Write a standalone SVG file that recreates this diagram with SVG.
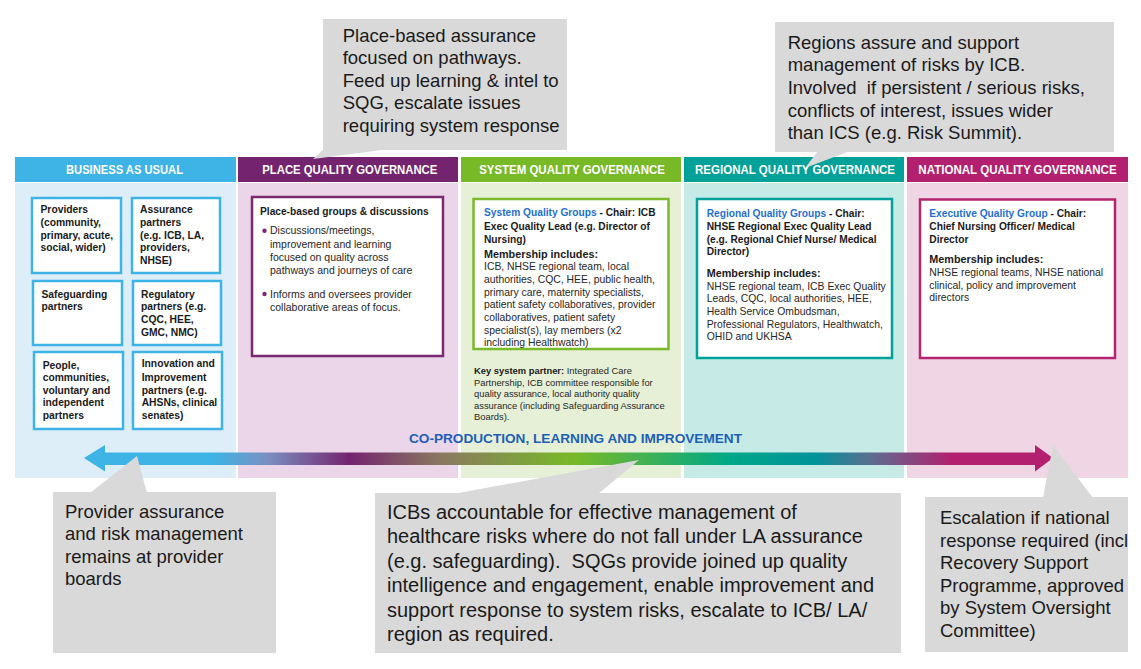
<svg xmlns="http://www.w3.org/2000/svg" width="1141" height="669" viewBox="0 0 1141 669">
<defs>
<style>
text{font-family:"Liberation Sans",Arial,sans-serif}
.hdr{font-weight:bold;font-size:12.5px;fill:#fff;text-anchor:middle}
.bau{font-weight:bold;font-size:10.3px;fill:#1a1a1a}
.t{font-size:10.4px;fill:#262626}
.tb{font-weight:bold;font-size:10.2px;fill:#1a1a1a}
.mem{font-weight:bold;font-size:10.8px;fill:#1a1a1a}
.blue{fill:#1f6fcf}
.ksp{font-size:9.4px;fill:#262626}
.call{font-size:18.5px;fill:#1a1a1a}
.callm{font-size:20px;fill:#1a1a1a}
.cbg{fill:#d9d9d9}
.bbox{fill:#fff;stroke:#3db4e5;stroke-width:2.5}
</style>
<linearGradient id="arrowGrad" gradientUnits="userSpaceOnUse" x1="84" y1="0" x2="1053" y2="0">
<stop offset="0" stop-color="#3db4e5"/>
<stop offset="0.132" stop-color="#3db4e5"/>
<stop offset="0.19" stop-color="#7a8fc0"/>
<stop offset="0.274" stop-color="#74246f"/>
<stop offset="0.37" stop-color="#8a7a60"/>
<stop offset="0.507" stop-color="#78b928"/>
<stop offset="0.665" stop-color="#00a886"/>
<stop offset="0.755" stop-color="#00939a"/>
<stop offset="0.81" stop-color="#5a6f90"/>
<stop offset="0.897" stop-color="#b3206f"/>
<stop offset="1" stop-color="#b3206f"/>
</linearGradient>
<clipPath id="clipR"><rect x="0" y="0" width="1128" height="669"/></clipPath>
</defs>
<rect x="0" y="0" width="1141" height="669" fill="#fff"/>

<g id="col-bau">
<rect x="15" y="157" width="221" height="25" fill="#3db4e5"/>
<rect x="15" y="183" width="221" height="295" fill="#deeef8"/>
<text class="hdr" x="124.5" y="174" textLength="117" lengthAdjust="spacingAndGlyphs">BUSINESS AS USUAL</text>
</g>
<g id="col-place">
<rect x="238" y="157" width="220" height="25" fill="#74246f"/>
<rect x="238" y="183" width="220" height="295" fill="#ebd5e9"/>
<text class="hdr" x="349.8" y="174" textLength="175" lengthAdjust="spacingAndGlyphs">PLACE QUALITY GOVERNANCE</text>
</g>
<g id="col-system">
<rect x="461" y="157" width="220" height="25" fill="#78b928"/>
<rect x="461" y="183" width="220" height="295" fill="#e6f0d6"/>
<text class="hdr" x="572" y="174" textLength="185.7" lengthAdjust="spacingAndGlyphs">SYSTEM QUALITY GOVERNANCE</text>
</g>
<g id="col-regional">
<rect x="684" y="157" width="220" height="25" fill="#00a199"/>
<rect x="684" y="183" width="220" height="295" fill="#c6ebe6"/>
<text class="hdr" x="795" y="174" textLength="200" lengthAdjust="spacingAndGlyphs">REGIONAL QUALITY GOVERNANCE</text>
</g>
<g id="col-national">
<rect x="907" y="157" width="221" height="25" fill="#b3206f"/>
<rect x="907" y="183" width="221" height="295" fill="#f0d6e4"/>
<text class="hdr" x="1017.5" y="174" textLength="198.3" lengthAdjust="spacingAndGlyphs">NATIONAL QUALITY GOVERNANCE</text>
</g>

<g id="bau-providers">
<rect class="bbox" x="32" y="198" width="89" height="75"/>
<text class="bau"><tspan x="40.5" y="213">Providers</tspan><tspan x="40.5" y="226">(community,</tspan><tspan x="40.5" y="238.7">primary, acute,</tspan><tspan x="40.5" y="251.4">social, wider)</tspan></text>
</g>
<g id="bau-assurance">
<rect class="bbox" x="132" y="198" width="88" height="75"/>
<text class="bau"><tspan x="140" y="213">Assurance</tspan><tspan x="140" y="226">partners</tspan><tspan x="140" y="238.7">(e.g. ICB, LA,</tspan><tspan x="140" y="251.4">providers,</tspan><tspan x="140" y="264.4">NHSE)</tspan></text>
</g>
<g id="bau-safeguarding">
<rect class="bbox" x="33" y="281" width="89" height="64"/>
<text class="bau"><tspan x="41.5" y="297.7">Safeguarding</tspan><tspan x="41.5" y="309.7">partners</tspan></text>
</g>
<g id="bau-regulatory">
<rect class="bbox" x="133" y="281" width="88" height="64"/>
<text class="bau"><tspan x="141" y="297.7">Regulatory</tspan><tspan x="141" y="310.4">partners (e.g.</tspan><tspan x="141" y="323">CQC, HEE,</tspan><tspan x="141" y="335.7">GMC, NMC)</tspan></text>
</g>
<g id="bau-people">
<rect class="bbox" x="34" y="352" width="89" height="77"/>
<text class="bau"><tspan x="42.7" y="368.7">People,</tspan><tspan x="42.7" y="381.4">communities,</tspan><tspan x="42.7" y="393.7">voluntary and</tspan><tspan x="42.7" y="406.4">independent</tspan><tspan x="42.7" y="419.4">partners</tspan></text>
</g>
<g id="bau-innovation">
<rect class="bbox" x="133" y="352" width="89" height="77"/>
<text class="bau"><tspan x="141.7" y="367">Innovation and</tspan><tspan x="141.7" y="381">Improvement</tspan><tspan x="141.7" y="393.7">partners (e.g.</tspan><tspan x="141.7" y="406.4">AHSNs, clinical</tspan><tspan x="141.7" y="419.4">senates)</tspan></text>
</g>

<g id="place-box">
<rect x="252" y="197" width="191" height="159" fill="#fff" stroke="#7b2a72" stroke-width="2.5"/>
<text class="tb" x="260" y="215.3">Place-based groups &amp; discussions</text>
<circle cx="264.5" cy="230.7" r="2.2" fill="#7b2a72"/>
<circle cx="264.5" cy="294" r="2.2" fill="#7b2a72"/>
<text class="t" style="font-size:10.5px"><tspan x="270" y="234.4">Discussions/meetings,</tspan><tspan x="270" y="247.7">improvement and learning</tspan><tspan x="270" y="261">focused on quality across</tspan><tspan x="270" y="274.4">pathways and journeys of care</tspan><tspan x="270" y="297.7">Informs and oversees provider</tspan><tspan x="270" y="311">collaborative areas of focus.</tspan></text>
</g>

<g id="system-box">
<rect x="473.5" y="199" width="195" height="150" fill="#fff" stroke="#7ab929" stroke-width="2.5"/>
<text class="tb"><tspan x="484" y="216.4"><tspan class="blue">System Quality Groups</tspan> - Chair: ICB</tspan><tspan x="484" y="229.7">Exec Quality Lead (e.g. Director of</tspan><tspan x="484" y="243">Nursing)</tspan></text>
<text class="mem" x="484" y="257.8">Membership includes:</text>
<text class="t"><tspan x="484" y="270.4">ICB, NHSE regional team, local</tspan><tspan x="484" y="283">authorities, CQC, HEE, public health,</tspan><tspan x="484" y="295.7">primary care, maternity specialists,</tspan><tspan x="484" y="308.4">patient safety collaboratives, provider</tspan><tspan x="484" y="321.4">collaboratives, patient safety</tspan><tspan x="484" y="333.7">specialist(s), lay members (x2</tspan><tspan x="484" y="346.4">including Healthwatch)</tspan></text>
</g>
<g id="system-partner">
<text class="ksp"><tspan x="474" y="374.3"><tspan font-weight="bold" fill="#1a1a1a">Key system partner:</tspan> Integrated Care</tspan><tspan x="474" y="385.6">Partnership, ICB committee responsible for</tspan><tspan x="474" y="397.3">quality assurance, local authority quality</tspan><tspan x="474" y="409">assurance (including Safeguarding Assurance</tspan><tspan x="474" y="420">Boards).</tspan></text>
</g>

<g id="regional-box">
<rect x="697" y="199" width="195" height="159" fill="#fff" stroke="#00a199" stroke-width="2.5"/>
<text class="tb"><tspan x="706.7" y="217"><tspan class="blue">Regional Quality Groups</tspan> - Chair:</tspan><tspan x="706.7" y="229.7">NHSE Regional Exec Quality Lead</tspan><tspan x="706.7" y="243">(e.g. Regional Chief Nurse/ Medical</tspan><tspan x="706.7" y="255.4">Director)</tspan></text>
<text class="mem" x="706.7" y="277">Membership includes:</text>
<text class="t"><tspan x="706.7" y="289.7">NHSE regional team, ICB Exec Quality</tspan><tspan x="706.7" y="302.4">Leads, CQC, local authorities, HEE,</tspan><tspan x="706.7" y="315">Health Service Ombudsman,</tspan><tspan x="706.7" y="327.7">Professional Regulators, Healthwatch,</tspan><tspan x="706.7" y="340.4">OHID and UKHSA</tspan></text>
</g>

<g id="national-box">
<rect x="920" y="199.5" width="195" height="158.5" fill="#fff" stroke="#b5246e" stroke-width="2.5"/>
<text class="tb"><tspan x="929.3" y="217"><tspan class="blue">Executive Quality Group</tspan> - Chair:</tspan><tspan x="929.3" y="230.4">Chief Nursing Officer/ Medical</tspan><tspan x="929.3" y="243">Director</tspan></text>
<text class="mem" x="929.3" y="263">Membership includes:</text>
<text class="t"><tspan x="929.3" y="276">NHSE regional teams, NHSE national</tspan><tspan x="929.3" y="288.7">clinical, policy and improvement</tspan><tspan x="929.3" y="301.4">directors</tspan></text>
</g>

<g id="connectors">
<path d="M84,458 L105,445 L105,452.5 L1035,452.5 L1035,445 L1053,458 L1035,471.5 L1035,465 L105,465 L105,471.5 Z" fill="url(#arrowGrad)"/>
</g>
<g id="coproduction-label">
<text x="575.5" y="443" text-anchor="middle" font-weight="bold" font-size="12.5" fill="#1d5fb8" textLength="333" lengthAdjust="spacingAndGlyphs">CO-PRODUCTION, LEARNING AND IMPROVEMENT</text>
</g>

<g id="callout-place">
<polygon class="cbg" points="323,150 382,150 313,159"/>
<rect class="cbg" x="323" y="19" width="244" height="131"/>
<text class="call"><tspan x="342.7" y="41.7">Place-based assurance</tspan><tspan x="342.7" y="64">focused on pathways.</tspan><tspan x="342.7" y="86.7">Feed up learning &amp; intel to</tspan><tspan x="342.7" y="109">SQG, escalate issues</tspan><tspan x="342.7" y="131.7">requiring system response</tspan></text>
</g>
<g id="callout-regional">
<polygon class="cbg" points="818,151 850,151 805,168"/>
<rect class="cbg" x="775" y="22" width="339" height="130"/>
<text class="call"><tspan x="787.7" y="49.4">Regions assure and support</tspan><tspan x="787.7" y="71">management of risks by ICB.</tspan><tspan x="787.7" y="94">Involved&#160; if persistent / serious risks,</tspan><tspan x="787.7" y="116.7">conflicts of interest, issues wider</tspan><tspan x="787.7" y="139">than ICS (e.g. Risk Summit).</tspan></text>
</g>
<g id="callout-provider">
<polygon class="cbg" points="90,493 147,493 137,456"/>
<rect class="cbg" x="53" y="492" width="223" height="161"/>
<text class="call"><tspan x="65" y="518.4">Provider assurance</tspan><tspan x="65" y="540.4">and risk management</tspan><tspan x="65" y="562.7">remains at provider</tspan><tspan x="65" y="585">boards</tspan></text>
</g>
<g id="callout-icb">
<polygon class="cbg" points="453,494 598,494 639,460"/>
<rect class="cbg" x="375" y="493" width="526" height="160"/>
<text class="callm"><tspan x="387" y="518.9">ICBs accountable for effective management of</tspan><tspan x="387" y="543.2">healthcare risks where do not fall under LA assurance</tspan><tspan x="387" y="567.9">(e.g. safeguarding).&#160; SQGs provide joined up quality</tspan><tspan x="387" y="592.2">intelligence and engagement, enable improvement and</tspan><tspan x="387" y="616.5">support response to system risks, escalate to ICB/ LA/</tspan><tspan x="387" y="640.5">region as required.</tspan></text>
</g>
<g id="callout-national">
<polygon class="cbg" points="1043,498 1093,498 1053,445"/>
<rect class="cbg" x="925" y="497" width="203" height="155"/>
<text class="call" clip-path="url(#clipR)"><tspan x="940" y="524">Escalation if national</tspan><tspan x="940" y="546.5">response required (incl</tspan><tspan x="940" y="569">Recovery Support</tspan><tspan x="940" y="591.5">Programme, approved</tspan><tspan x="940" y="614">by System Oversight</tspan><tspan x="940" y="636.5">Committee)</tspan></text>
</g>
</svg>
